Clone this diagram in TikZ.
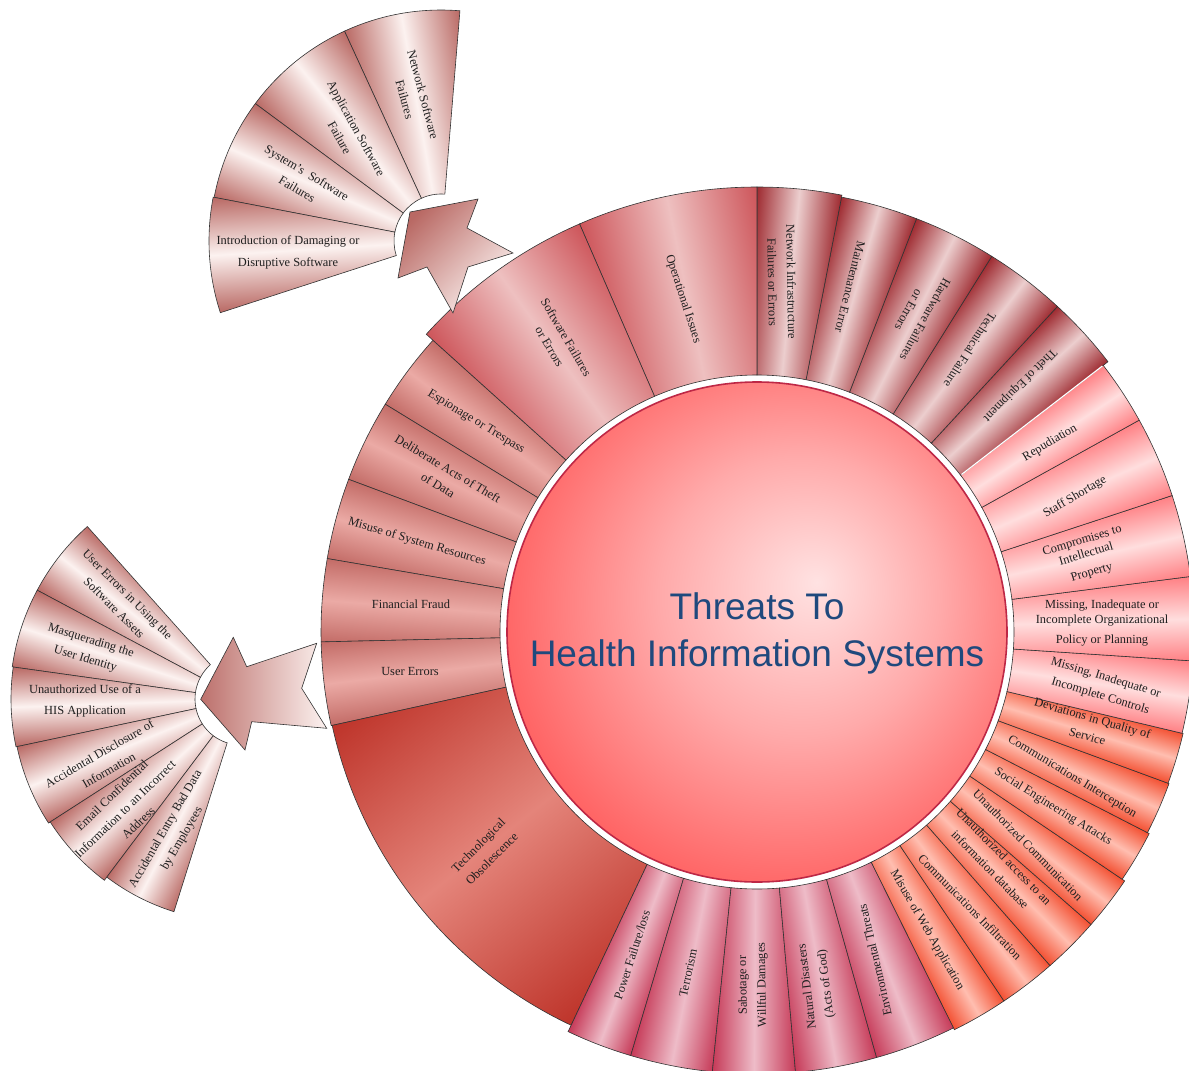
\documentclass[tikz,border=0pt]{standalone}
\usepackage{fontspec}
\newfontfamily\segfont{Liberation Serif}
\newfontfamily\titlefont{Liberation Sans}
\definecolor{fanD}{RGB}{185,105,100}
\definecolor{fanL}{RGB}{252,242,240}
\definecolor{opsD}{RGB}{205,85,90}
\definecolor{opsL}{RGB}{238,192,192}
\definecolor{drkD}{RGB}{158,42,48}
\definecolor{drkL}{RGB}{236,206,206}
\definecolor{pnkD}{RGB}{255,128,132}
\definecolor{pnkL}{RGB}{255,222,222}
\definecolor{orgD}{RGB}{243,80,50}
\definecolor{orgL}{RGB}{255,190,176}
\definecolor{crmD}{RGB}{198,58,88}
\definecolor{crmL}{RGB}{238,188,200}
\definecolor{tecD}{RGB}{190,52,42}
\definecolor{tecL}{RGB}{228,132,122}
\definecolor{lftD}{RGB}{195,108,103}
\definecolor{lftL}{RGB}{235,170,165}
\definecolor{titleC}{RGB}{31,73,125}
\definecolor{diskIn}{RGB}{255,226,226}
\definecolor{diskMid}{RGB}{255,170,170}
\definecolor{diskOut}{RGB}{255,92,92}
\definecolor{diskRim}{RGB}{190,40,70}
\pgfdeclareradialshading{diskshade}{\pgfpoint{6bp}{5bp}}{color(0bp)=(diskIn); color(14bp)=(diskMid); color(30bp)=(diskOut); color(50bp)=(diskOut)}
\tikzset{
  segline/.style={draw=black!80, line width=0.6pt},
  lbl/.style={font=\segfont\fontsize{12.4}{19}\selectfont, align=center, text=black!88, inner sep=0pt},
  ttl/.style={font=\titlefont\fontsize{37}{47}\selectfont, align=center, text=titleC, inner sep=0pt},
}
\newcommand\ringseg[7]{%
  \pgfmathsetmacro\rsmid{(#2+#3)/2}%
  \pgfmathsetmacro\rshalf{(#3-#2)/2}%
  \shade[top color=#6, bottom color=#6, middle color=#7, transform canvas={shift={(#1)}, rotate=\rsmid}]
    (-\rshalf:#4pt) arc[start angle=-\rshalf, end angle=\rshalf, radius=#4pt]
    -- (\rshalf:#5pt) arc[start angle=\rshalf, end angle=-\rshalf, radius=#5pt] -- cycle;
  \draw[segline, shift={(#1)}] (#2:#4pt) arc[start angle=#2, end angle=#3, radius=#4pt]
    -- (#3:#5pt) arc[start angle=#3, end angle=#2, radius=#5pt] -- cycle;
}
\begin{document}
\begin{tikzpicture}[x=1pt,y=1pt]
\useasboundingbox[fill=white] (0,0) rectangle (1189,-1071);
\coordinate (C) at (757,-632);
\coordinate (F1) at (441,-241);
\coordinate (F2) at (241,-699);
% left group
\ringseg{C}{138}{148.5}{257}{436}{lftD}{lftL}
\ringseg{C}{148.5}{159.5}{257}{436}{lftD}{lftL}
\ringseg{C}{159.5}{170.3}{257}{436}{lftD}{lftL}
\ringseg{C}{170.3}{181.3}{257}{436}{lftD}{lftL}
\ringseg{C}{181.3}{192.4}{257}{436}{lftD}{lftL}
% technological obsolescence
\ringseg{C}{192.4}{244.7}{257}{435}{tecD}{tecL}
% bottom group
\ringseg{C}{244.7}{253.4}{257}{442}{crmD}{crmL}
\ringseg{C}{253.4}{264.2}{257}{442}{crmD}{crmL}
\ringseg{C}{264.2}{275}{257}{442}{crmD}{crmL}
\ringseg{C}{275}{285.7}{257}{442}{crmD}{crmL}
\ringseg{C}{285.7}{296.4}{257}{442}{crmD}{crmL}
% orange group
\ringseg{C}{-63.6}{-56.2}{257}{444}{orgD}{orgL}
\ringseg{C}{-56.2}{-48.7}{257}{444}{orgD}{orgL}
\ringseg{C}{-48.7}{-41.2}{257}{444}{orgD}{orgL}
\ringseg{C}{-41.2}{-34.1}{257}{444}{orgD}{orgL}
\ringseg{C}{-34.1}{-27.2}{257}{441}{orgD}{orgL}
\ringseg{C}{-27.2}{-20.2}{257}{439}{orgD}{orgL}
\ringseg{C}{-20.2}{-13.4}{257}{438}{orgD}{orgL}
% pink group
\ringseg{C}{-13.4}{-3.8}{257}{437}{pnkD}{pnkL}
\ringseg{C}{-3.8}{7.3}{257}{437}{pnkD}{pnkL}
\ringseg{C}{7.3}{18.2}{257}{437}{pnkD}{pnkL}
\ringseg{C}{18.2}{29}{257}{437}{pnkD}{pnkL}
\ringseg{C}{29}{37.6}{257}{437}{pnkD}{pnkL}
% dark group
\ringseg{C}{37.6}{47.3}{257}{443}{drkD}{drkL}
\ringseg{C}{47.3}{58}{257}{443}{drkD}{drkL}
\ringseg{C}{58}{68.9}{257}{443}{drkD}{drkL}
\ringseg{C}{68.9}{79}{257}{443}{drkD}{drkL}
\ringseg{C}{79}{90}{257}{445}{drkD}{drkL}
\draw[white, line width=1.2pt, shift={(C)}] (37.6:258pt) -- (37.6:436pt);
% operational / software
\ringseg{C}{90}{113.5}{257}{445}{opsD}{opsL}
\ringseg{C}{113.5}{138}{257}{445}{opsD}{opsL}
% central disk
\shade[shading=diskshade] (C) circle[radius=250pt];
\draw[diskRim, line width=1.6pt] (C) circle[radius=250pt];
% top fan
\ringseg{F1}{85.3}{114.7}{47}{231}{fanD}{fanL}
\ringseg{F1}{114.7}{143.5}{47}{231}{fanD}{fanL}
\ringseg{F1}{143.5}{169.1}{47}{231}{fanD}{fanL}
\ringseg{F1}{169.1}{198}{47}{232}{fanD}{fanL}
% left fan
\ringseg{F2}{131.7}{151.9}{46}{231}{fanD}{fanL}
\ringseg{F2}{151.9}{172}{46}{231}{fanD}{fanL}
\ringseg{F2}{172}{192}{46}{230}{fanD}{fanL}
\ringseg{F2}{192}{212.8}{46}{229}{fanD}{fanL}
\ringseg{F2}{212.8}{233}{46}{227}{fanD}{fanL}
\ringseg{F2}{233}{252.5}{46}{223}{fanD}{fanL}
% arrows
\shadedraw[segline, top color=fanD, bottom color=fanL, shading angle=45.8]
  (410,-212) -- (478,-199) -- (467,-228) -- (513,-253) -- (468,-267)
  -- (453,-313) -- (427,-267) -- (398,-278) -- cycle;
\shadedraw[segline, top color=fanD!95, bottom color=fanL, shading angle=90]
  (200.7,-699.3) -- (233.3,-637.3) -- (246.7,-666.7) -- (316.7,-643.3)
  -- (301.7,-688.3) -- (326.7,-728.3) -- (251.7,-721.7) -- (245,-750) -- cycle;
% title
\node[ttl] (title) at (757,-633.5) {Threats To\\Health Information Systems};
% ring labels
\node[lbl, rotate=-72] (opIss) at (683,-299) {Operational Issues};
\node[lbl, rotate=-59.6] (swFail) at (558,-342) {Software Failures\\ or Errors};
\node[lbl, rotate=-31.4] (esp) at (476,-422) {Espionage or Trespass};
\node[lbl, rotate=-31] (delib) at (443,-477) {Deliberate Acts of Theft\\ of Data};
\node[lbl, rotate=-16.6] (misSys) at (417,-542) {Misuse of System Resources};
\node[lbl] (fin) at (411,-604) {Financial Fraud};
\node[lbl] (usrErr) at (410,-671) {User Errors};
\node[lbl, rotate=45] (tech) at (485,-852) {Technological\\ Obsolescence};
\node[lbl, rotate=72] (power) at (632,-955) {Power Failure/loss};
\node[lbl, rotate=78] (terror) at (688,-973) {Terrorism};
\node[lbl, rotate=91] (sabot) at (753,-985) {Sabotage or\\ Willful Damages};
\node[lbl, rotate=97] (natural) at (817,-985) {Natural Disasters\\ (Acts of God)};
\node[lbl, rotate=103] (env) at (875,-960) {Environmental Threats};
\node[lbl, rotate=-60] (misWeb) at (927,-930) {Misuse of Web Application};
\node[lbl, rotate=-45.5] (commInf) at (970,-907) {Communications Infiltration};
\node[lbl, rotate=-45.5] (unAcc) at (997,-863) {Unauthorized access to an\\ information database};
\node[lbl, rotate=-45.4] (unComm) at (1028,-845) {Unauthorized Communication};
\node[lbl, rotate=-31.8] (social) at (1053,-807) {Social Engineering Attacks};
\node[lbl, rotate=-31] (commInt) at (1072,-777) {Communications Interception};
\node[lbl, rotate=-16] (dev) at (1090,-727) {Deviations in Quality of\\ Service};
\node[lbl, rotate=-16.9] (misCtl) at (1103,-687) {Missing, Inadequate or\\ Incomplete Controls};
\node[lbl] (misOrg) at (1102,-623) {Missing, Inadequate or\\[-4pt] Incomplete Organizational\\[1pt] Policy or Planning};
\node[lbl, rotate=16.6] (compr) at (1087,-557) {Compromises to\\[-5pt] Intellectual\\ Property};
\node[lbl, rotate=31] (staff) at (1075,-497) {Staff Shortage};
\node[lbl, rotate=30.7] (repud) at (1050,-443) {Repudiation};
\node[lbl, rotate=-135] (theft) at (1020,-385) {Theft of Equipment};
\node[lbl, rotate=-122.5] (techF) at (970,-350) {Technical Failure};
\node[lbl, rotate=-119] (hw) at (917,-315) {Hardware Failures\\ or Errors};
\node[lbl, rotate=-104] (maint) at (850,-287) {Maintenance Error};
\node[lbl, rotate=-89] (netInf) at (782,-282) {Network Infrastructure\\ Failures or Errors};
% left fan labels
\node[lbl, rotate=-45] (ueu) at (121,-601) {User Errors in Using the\\ Software Assets};
\node[lbl, rotate=-17] (masq) at (88,-650) {Masquerading the\\ User Identity};
\node[lbl] (unUse) at (85,-701) {Unauthorized Use of a\\[2pt] HIS Application};
\node[lbl, rotate=30] (accDis) at (104,-762) {Accidental Disclosure of\\ Information};
\node[lbl, rotate=44] (email) at (125,-809) {Email Confidential\\ Information to an Incorrect\\ Address};
\node[lbl, rotate=60] (accEnt) at (174,-834) {Accidental Entry Bad Data\\ by Employees};
% top fan labels
\node[lbl, rotate=-75] (netSw) at (414,-97) {Network Software\\ Failures};
\node[lbl, rotate=-61] (appSw) at (348,-133) {Application Software\\ Failure};
\node[lbl, rotate=-31] (sysSw) at (302,-181) {System’s~ Software\\ Failures};
\node[lbl] (intro) at (288,-252.5) {Introduction of Damaging or\\[3pt] Disruptive Software};
\end{tikzpicture}
\end{document}
